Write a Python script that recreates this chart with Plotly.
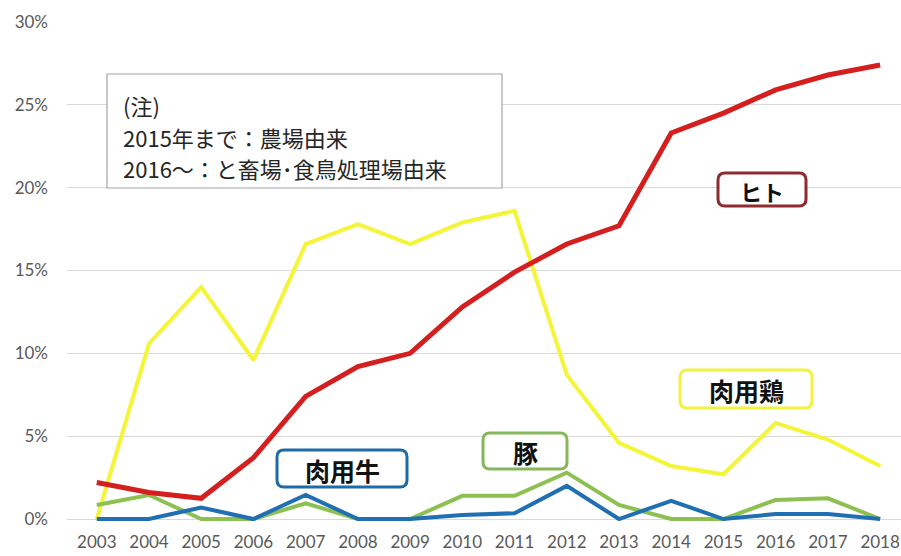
import plotly.graph_objects as go

years = list(range(2003, 2019))
hito = [2.2, 1.6, 1.25, 3.7, 7.4, 9.2, 10.0, 12.8, 14.9, 16.6, 17.7, 23.3, 24.5, 25.9, 26.8, 27.4]
broiler = [0.0, 10.6, 14.0, 9.6, 16.6, 17.8, 16.6, 17.9, 18.6, 8.7, 4.6, 3.2, 2.7, 5.8, 4.8, 3.2]
pig = [0.85, 1.45, 0.0, 0.0, 0.95, 0.0, 0.0, 1.4, 1.4, 2.8, 0.85, 0.0, 0.0, 1.15, 1.25, 0.0]
cattle = [0.0, 0.0, 0.7, 0.0, 1.45, 0.0, 0.0, 0.25, 0.35, 2.0, 0.0, 1.1, 0.0, 0.3, 0.3, 0.0]

ytick_vals = [0, 5, 10, 15, 20, 25, 30]
ytick_text = ["0%", "5%", "10%", "15%", "20%", "25%", "30%"]

note_lines = ["(注)", "2015年まで：農場由来", "2016～：と畜場･食鳥処理場由来"]

W, H = 901, 556
ML, MR, MT, MB = 67, 0, 22, 32
XR = [2002.43, 2018.40]
YR = [-0.3, 30.0]


def px_x(p):
    return XR[0] + (p - ML) / (W - MR - ML) * (XR[1] - XR[0])


def px_y(p):
    return YR[1] - (p - MT) / (H - MB - MT) * (YR[1] - YR[0])


def rounded_box(x0, y0, x1, y1, r=7):
    return (
        f"M {px_x(x0 + r)},{px_y(y0)} L {px_x(x1 - r)},{px_y(y0)} "
        f"Q {px_x(x1)},{px_y(y0)} {px_x(x1)},{px_y(y0 + r)} "
        f"L {px_x(x1)},{px_y(y1 - r)} Q {px_x(x1)},{px_y(y1)} {px_x(x1 - r)},{px_y(y1)} "
        f"L {px_x(x0 + r)},{px_y(y1)} Q {px_x(x0)},{px_y(y1)} {px_x(x0)},{px_y(y1 - r)} "
        f"L {px_x(x0)},{px_y(y0 + r)} Q {px_x(x0)},{px_y(y0)} {px_x(x0 + r)},{px_y(y0)} Z"
    )


fig = go.Figure()
fig.add_trace(go.Scatter(x=years, y=broiler, mode="lines", name="肉用鶏",
                         line=dict(color="#F4F536", width=4)))
fig.add_trace(go.Scatter(x=years, y=pig, mode="lines", name="豚",
                         line=dict(color="#8CC152", width=4)))
fig.add_trace(go.Scatter(x=years, y=cattle, mode="lines", name="肉用牛",
                         line=dict(color="#1F6FB2", width=4)))
fig.add_trace(go.Scatter(x=years, y=hito, mode="lines", name="ヒト",
                         line=dict(color="#D51F1F", width=5)))

jp = "Noto Sans CJK JP"
shapes = []
annotations = []

# note box
shapes.append(dict(type="rect", xref="x", yref="y",
                   x0=px_x(107), x1=px_x(502), y0=px_y(74), y1=px_y(188),
                   line=dict(color="#A6A6A6", width=1.2), fillcolor="white", layer="above"))
for i, t in enumerate(note_lines):
    annotations.append(dict(x=px_x(121), y=px_y(105 + i * 31.5), xref="x", yref="y",
                            text=t, showarrow=False, xanchor="left", yanchor="middle",
                            font=dict(family=jp, size=22, color="#262626")))

labels = [
    ("ヒト", (718, 173, 806, 206), "#8E2B2E", 22),
    ("肉用鶏", (680, 370, 812, 408), "#F1F33E", 25),
    ("豚", (483, 433, 567, 469), "#86B75A", 25),
    ("肉用牛", (277, 450, 407, 487), "#1E6BA6", 25),
]
for text, (x0, y0, x1, y1), col, fs in labels:
    shapes.append(dict(type="path", xref="x", yref="y", path=rounded_box(x0, y0, x1, y1),
                       line=dict(color=col, width=3), fillcolor="white", layer="above"))
    annotations.append(dict(x=px_x((x0 + x1) / 2), y=px_y((y0 + y1) / 2 + 1), xref="x", yref="y",
                            text=f"<b>{text}</b>", showarrow=False,
                            xanchor="center", yanchor="middle",
                            font=dict(family=jp, size=fs, color="#111111")))

fig.update_layout(
    width=W, height=H,
    margin=dict(l=ML, r=MR, t=MT, b=MB, pad=0, autoexpand=False),
    paper_bgcolor="white", plot_bgcolor="white",
    showlegend=False,
    shapes=shapes, annotations=annotations,
    xaxis=dict(range=XR, tickmode="array", tickvals=years, ticktext=[str(y) for y in years],
               showgrid=False, zeroline=False, showline=False, ticks="", automargin=False,
               tickfont=dict(family="Lato", size=17, color="#595959"),
               ticklabelstandoff=6),
    yaxis=dict(range=YR, tickmode="array", tickvals=ytick_vals, ticktext=ytick_text,
               showgrid=True, gridcolor="#D9D9D9", gridwidth=1.2, zeroline=False,
               showline=False, ticks="", automargin=False,
               tickfont=dict(family="Lato", size=17, color="#595959"),
               ticklabelstandoff=18),
)

fig.write_html("out.html")
